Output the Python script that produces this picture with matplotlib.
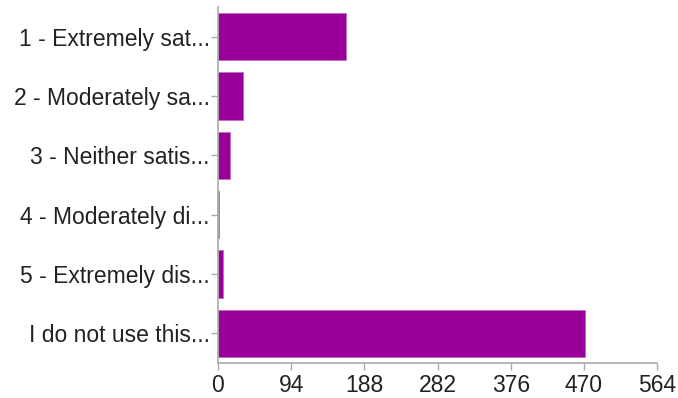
import matplotlib.pyplot as plt

labels = ['1 - Extremely sat...', '2 - Moderately sa...', '3 - Neither satis...',
          '4 - Moderately di...', '5 - Extremely dis...', 'I do not use this...']
counts = [164, 32, 16, 1, 6, 472]
xticks = [0, 94, 188, 282, 376, 470, 564]

plt.rcParams['font.family'] = ['Liberation Sans', 'DejaVu Sans']

fig = plt.figure(figsize=(6.78, 3.98), dpi=100)
ax = fig.add_axes([218 / 678, 35 / 398, 439 / 678, 356 / 398])

pos = list(range(len(labels)))
ax.barh(pos, counts, height=0.8, color='#990099', edgecolor='#c36bc3', linewidth=0.6)
ax.set_ylim(len(labels) - 0.5, -0.5)
ax.set_xlim(0, 564)
ax.set_yticks(pos)
ax.set_yticklabels(labels)
ax.set_xticks(xticks)
ax.set_xticklabels([str(t) for t in xticks])

for side in ['top', 'right']:
    ax.spines[side].set_visible(False)
for side in ['left', 'bottom']:
    ax.spines[side].set_color('#aaaaaa')
    ax.spines[side].set_linewidth(1.2)
ax.tick_params(axis='both', colors='#aaaaaa', length=5, width=1, labelsize=16.5,
               labelcolor='#222222')
ax.tick_params(axis='x', pad=3)
ax.tick_params(axis='y', pad=1)

fig.savefig('out.png', dpi=100)
